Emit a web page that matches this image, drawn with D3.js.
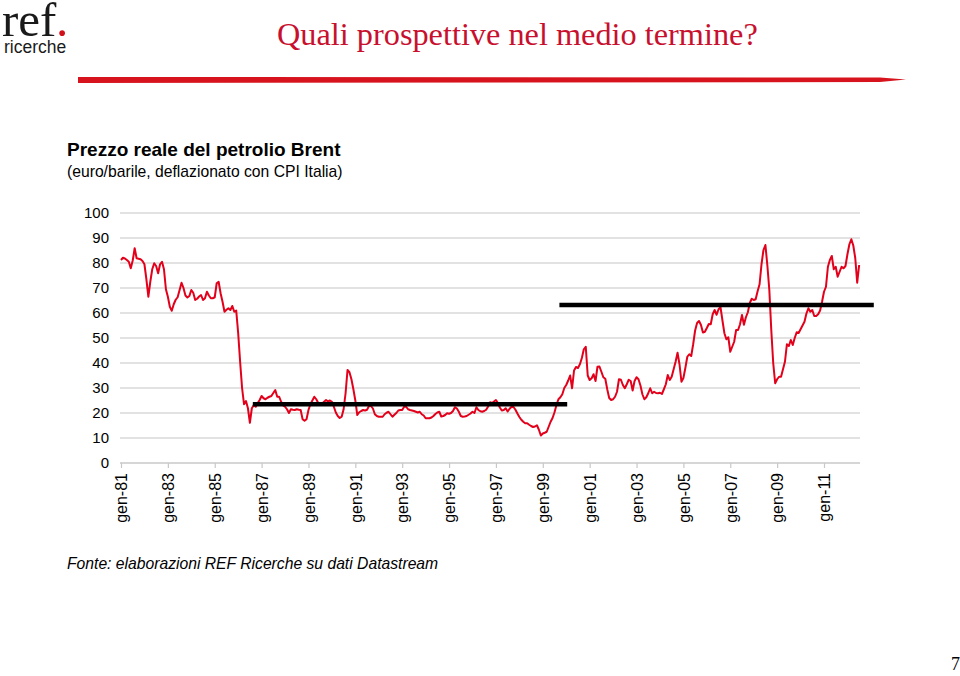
<!DOCTYPE html>
<html>
<head>
<meta charset="utf-8">
<script src="https://cdn.jsdelivr.net/npm/d3@7"></script>
<style>
  html, body { margin: 0; padding: 0; background: #ffffff; }
  svg { display: block; }
</style>
</head>
<body>
<svg id="chart" width="960" height="676"></svg>
<script>
// ---------------- DATA ----------------
// Monthly real Brent price (euro/barrel, deflated with Italian CPI), Jan 1981 - Jul 2012
const startYear = 1981;
const values = [
  // 1981
  81.2, 82.1, 81.8, 81.2, 80.5, 77.9, 81.0, 85.9, 81.9, 81.7, 81.5, 80.8,
  // 1982
  79.5, 73.5, 66.5, 72.5, 77.5, 79.9, 78.8, 75.9, 79.5, 80.5, 77.5, 69.5,
  // 1983
  66.5, 62.5, 60.9, 63.5, 65.3, 66.3, 69.2, 72.1, 70.0, 67.0, 66.2, 66.8,
  // 1984
  69.2, 68.1, 65.2, 65.7, 66.6, 67.2, 65.2, 65.9, 68.5, 67.0, 65.9, 65.9,
  // 1985
  66.3, 71.9, 72.5, 67.9, 64.5, 60.5, 61.3, 61.9, 61.2, 62.8, 60.5, 61.0,
  // 1986
  52.0, 40.5, 30.0, 23.5, 24.8, 21.9, 16.1, 21.9, 23.2, 22.5, 24.0, 25.2,
  // 1987
  26.8, 25.9, 25.5, 26.1, 26.5, 26.8, 28.0, 29.2, 26.5, 26.5, 24.5, 23.0,
  // 1988
  22.5, 21.5, 20.0, 21.5, 21.3, 21.2, 21.5, 21.3, 21.2, 17.5, 16.9, 17.5,
  // 1989
  21.2, 23.5, 25.0, 26.5, 25.5, 24.0, 23.2, 23.8, 24.5, 25.2, 24.6, 25.0,
  // 1990
  24.5, 22.5, 20.2, 18.8, 18.0, 18.5, 21.5, 27.9, 37.2, 36.3, 33.5, 29.5,
  // 1991
  25.0, 19.2, 20.3, 20.8, 21.2, 21.0, 21.3, 22.8, 22.8, 21.8, 19.5, 18.8,
  // 1992
  18.5, 18.5, 18.5, 19.5, 20.1, 20.5, 19.5, 18.5, 19.3, 20.0, 21.0, 21.2,
  // 1993
  21.2, 22.5, 22.5, 21.5, 21.2, 21.0, 20.8, 20.5, 20.2, 20.5, 19.5, 19.0,
  // 1994
  17.9, 17.9, 17.9, 18.2, 18.8, 19.6, 20.2, 20.5, 18.6, 18.8, 19.2, 19.9,
  // 1995
  19.7, 20.0, 20.8, 22.3, 21.8, 20.5, 18.8, 18.5, 18.6, 18.8, 19.3, 19.8,
  // 1996
  20.5, 20.0, 22.3, 21.2, 20.7, 20.5, 20.8, 21.3, 22.6, 24.3, 24.0, 24.6,
  // 1997
  25.2, 24.0, 22.2, 21.0, 21.2, 21.9, 20.6, 21.7, 22.5, 22.4, 21.3, 19.8,
  // 1998
  18.4, 17.3, 16.5, 15.9, 15.9, 15.3, 14.8, 14.4, 14.6, 15.1, 13.3, 11.0,
  // 1999
  11.8, 12.1, 12.5, 14.5, 16.5, 18.0, 20.3, 23.2, 25.5, 26.3, 27.5, 30.0,
  // 2000
  31.2, 33.0, 35.0, 29.9, 37.0, 38.4, 38.0, 39.5, 42.0, 45.5, 46.5, 35.0,
  // 2001
  33.2, 33.9, 35.5, 32.8, 38.5, 38.6, 36.5, 34.3, 33.7, 29.5, 26.0, 25.2,
  // 2002
  25.5, 26.5, 28.5, 33.5, 33.3, 31.2, 29.9, 31.5, 33.3, 32.8, 29.0, 32.8,
  // 2003
  34.3, 33.5, 31.0, 27.5, 25.5, 26.3, 27.9, 29.9, 27.9, 28.5, 28.0, 27.9,
  // 2004
  28.1, 27.6, 29.5, 31.5, 35.2, 33.2, 34.5, 37.5, 40.5, 44.1, 39.5, 32.5,
  // 2005
  34.0, 38.0, 42.5, 43.5, 42.8, 47.5, 53.0, 56.0, 56.8, 55.2, 52.2, 52.5,
  // 2006
  54.0, 55.6, 55.5, 59.5, 61.2, 59.3, 61.5, 62.3, 57.0, 51.9, 49.5, 50.3,
  // 2007
  44.5, 46.5, 48.5, 53.2, 53.2, 55.5, 59.2, 55.3, 58.3, 60.3, 64.0, 65.7,
  // 2008
  65.2, 65.5, 68.7, 71.5, 79.5, 85.2, 87.2, 79.0, 69.2, 53.2, 39.9, 31.9,
  // 2009
  33.5, 34.5, 34.5, 37.5, 40.5, 47.5, 46.8, 49.2, 47.2, 50.0, 52.3, 52.0,
  // 2010
  53.5, 55.0, 56.5, 59.8, 61.9, 60.5, 61.2, 58.8, 58.8, 59.5, 61.0, 64.5,
  // 2011
  68.5, 70.5, 78.5, 81.2, 82.8, 77.5, 78.5, 74.5, 76.5, 78.5, 77.9, 78.8,
  // 2012
  83.5, 87.5, 89.5, 87.0, 82.0, 72.1, 79.2
];

// Period averages (black horizontal lines): start / end as month offsets from Jan 1981
const avgStart = [67.5, 224.5];
const avgEnd   = [228.5, 385.5];
const avgValue = [23.5, 63.2];

// Axis ticks
const yTicks = [0, 10, 20, 30, 40, 50, 60, 70, 80, 90, 100];
const xTickMonths = [0, 24, 48, 72, 96, 120, 144, 168, 192, 216, 240, 264, 288, 312, 336, 360];
const xTickLabels = ["gen-81", "gen-83", "gen-85", "gen-87", "gen-89", "gen-91", "gen-93", "gen-95",
                     "gen-97", "gen-99", "gen-01", "gen-03", "gen-05", "gen-07", "gen-09", "gen-11"];

// Texts
const pageTitle = "Quali prospettive nel medio termine?";
const chartTitle = "Prezzo reale del petrolio Brent";
const chartSubtitle = "(euro/barile, deflazionato con CPI Italia)";
const sourceNote = "Fonte: elaborazioni REF Ricerche su dati Datastream";
const pageNumber = "7";

// ---------------- DRAW ----------------
const svg = d3.select("#chart");
const sans = "'Liberation Sans', Arial, Helvetica, sans-serif";
const serif = "'Liberation Serif', 'Times New Roman', serif";

// Logo
svg.append("text").attr("x", 2).attr("y", 36)
  .attr("font-family", serif).attr("font-size", 49).attr("fill", "#1a1a1a")
  .text("ref");
svg.append("text").attr("x", 56).attr("y", 36)
  .attr("font-family", serif).attr("font-size", 49).attr("fill", "#d0101b")
  .text(".");
svg.append("text").attr("x", 4).attr("y", 53)
  .attr("font-family", sans).attr("font-size", 17.5).attr("fill", "#1a1a1a")
  .text("ricerche");

// Page title
svg.append("text").attr("x", 277).attr("y", 45)
  .attr("font-family", serif).attr("font-size", 32.3).attr("fill", "#c8102e")
  .text(pageTitle);

// Red rule with tapering end
svg.append("path")
  .attr("d", "M78,77 L880,77.5 L906,79.5 L880,82 L78,83 Z")
  .attr("fill", "#d7141e");

// Chart titles
svg.append("text").attr("x", 67).attr("y", 156)
  .attr("font-family", sans).attr("font-size", 19).attr("font-weight", "bold").attr("fill", "#000")
  .text(chartTitle);
svg.append("text").attr("x", 67).attr("y", 177)
  .attr("font-family", sans).attr("font-size", 15.7).attr("fill", "#000")
  .text(chartSubtitle);

// Scales
const x = d3.scaleLinear().domain([0, 360]).range([121, 824]);
const y = d3.scaleLinear().domain([0, 100]).range([463, 213]);
const xEnd = 860;

// Gridlines
svg.append("g").selectAll("line").data(yTicks.filter(d => d > 0)).join("line")
  .attr("x1", x(0) - 1).attr("x2", xEnd)
  .attr("y1", d => y(d)).attr("y2", d => y(d))
  .attr("stroke", "#d9d9d9").attr("stroke-width", 1.5);

// Y axis labels
svg.append("g").selectAll("text").data(yTicks).join("text")
  .attr("x", 109).attr("y", d => y(d) + 5)
  .attr("text-anchor", "end")
  .attr("font-family", sans).attr("font-size", 15).attr("fill", "#000")
  .text(d => d);

// X axis
const xAxis = d3.axisBottom(x)
  .tickValues(xTickMonths)
  .tickFormat((d, i) => xTickLabels[i])
  .tickSize(5)
  .tickSizeOuter(0);
const gx = svg.append("g").attr("transform", `translate(0,${y(0)})`).call(xAxis);
gx.select(".domain").remove();
gx.append("line").attr("x1", x(0) - 1).attr("x2", xEnd).attr("y1", 0).attr("y2", 0)
  .attr("stroke", "#c8c8c8").attr("stroke-width", 1.5);
gx.selectAll(".tick line").attr("stroke", "#c8c8c8").attr("stroke-width", 1.2);
gx.selectAll(".tick text")
  .attr("font-family", sans).attr("font-size", 16).attr("fill", "#000")
  .attr("transform", "rotate(-90)")
  .attr("text-anchor", "end")
  .attr("x", -10).attr("y", 0).attr("dy", "0.36em");

// Series line
const line = d3.line().x((d, i) => x(i)).y(d => y(d));
svg.append("path").datum(values)
  .attr("d", line)
  .attr("fill", "none").attr("stroke", "#e3001b").attr("stroke-width", 2)
  .attr("stroke-linejoin", "round");

// Period averages
svg.append("g").selectAll("line").data(avgValue).join("line")
  .attr("x1", (d, i) => x(avgStart[i])).attr("x2", (d, i) => x(avgEnd[i]))
  .attr("y1", d => y(d)).attr("y2", d => y(d))
  .attr("stroke", "#000").attr("stroke-width", 4.5);

// Source
svg.append("text").attr("x", 67).attr("y", 569)
  .attr("font-family", sans).attr("font-size", 15.7).attr("font-style", "italic").attr("fill", "#000")
  .text(sourceNote);

// Page number
svg.append("text").attr("x", 951).attr("y", 676 - 6)
  .attr("font-family", serif).attr("font-size", 18).attr("fill", "#000")
  .text(pageNumber);
</script>
</body>
</html>
